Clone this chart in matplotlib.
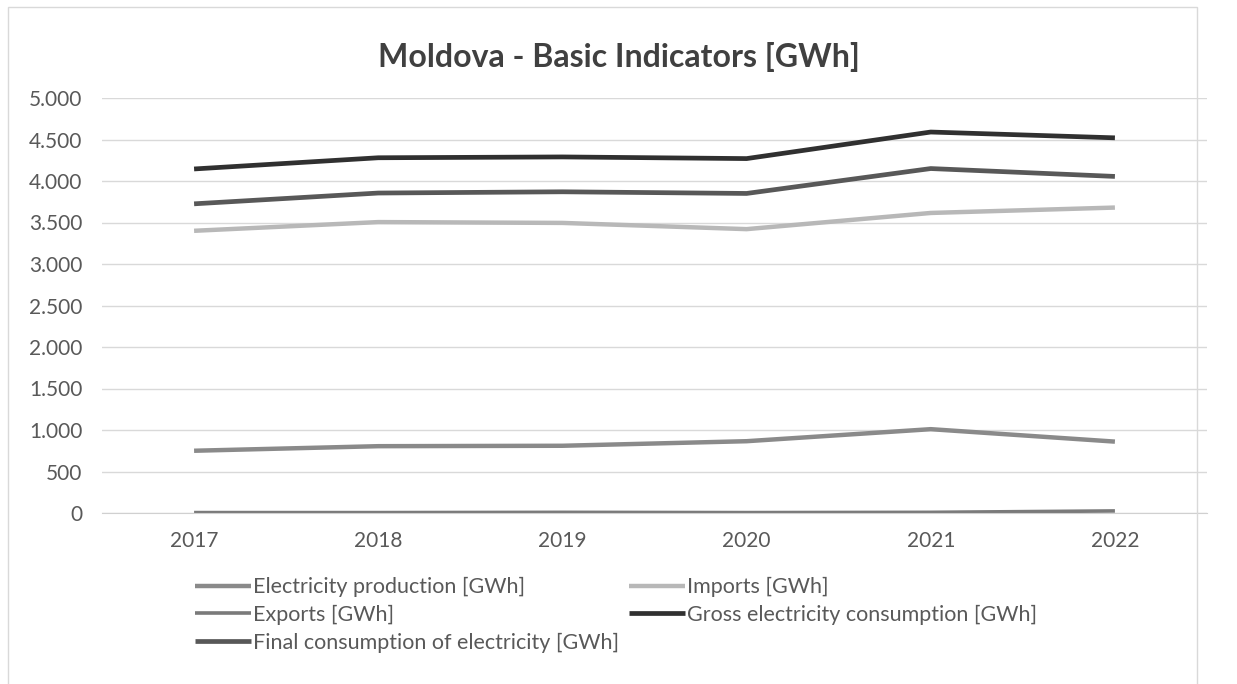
import matplotlib.pyplot as plt
from matplotlib.ticker import FuncFormatter
from matplotlib.patches import Rectangle

# data
years = ['2017', '2018', '2019', '2020', '2021', '2022']
production = [750, 805, 810, 865, 1010, 860]
imports = [3400, 3505, 3495, 3420, 3615, 3680]
exports = [5, 5, 8, 5, 8, 25]
gross = [4145, 4280, 4290, 4270, 4590, 4520]
final = [3725, 3855, 3870, 3850, 4150, 4055]

plt.rcParams['font.family'] = ['Lato', 'DejaVu Sans']

W, H = 1237, 684
fig = plt.figure(figsize=(W / 100, H / 100), dpi=100)
ax = fig.add_axes([102 / W, 1 - 513 / H, (1207 - 102) / W, (513 - 98) / H])

x = range(len(years))
lines = {}
lines['prod'], = ax.plot(x, production, color='#8a8a8a', lw=3.2, solid_capstyle='butt', label='Electricity production [GWh]')
lines['imp'], = ax.plot(x, imports, color='#b8b8b8', lw=3.2, solid_capstyle='butt', label='Imports [GWh]')
lines['exp'], = ax.plot(x, exports, color='#7a7a7a', lw=2.6, solid_capstyle='butt', label='Exports [GWh]')
lines['gross'], = ax.plot(x, gross, color='#303030', lw=3.4, solid_capstyle='butt', label='Gross electricity consumption [GWh]')
lines['final'], = ax.plot(x, final, color='#585858', lw=3.4, solid_capstyle='butt', label='Final consumption of electricity [GWh]')

ax.set_xlim(-0.5, 5.5)
ax.set_ylim(0, 5000)
ax.set_yticks(range(0, 5001, 500))
ax.yaxis.set_major_formatter(FuncFormatter(lambda v, p: f'{int(v):,}'.replace(',', '.')))
ax.set_xticks(list(x))
ax.set_xticklabels(years)
ax.grid(axis='y', color='#d9d9d9', lw=1)
ax.set_axisbelow(True)
for s in ['top', 'right', 'left']:
    ax.spines[s].set_visible(False)
ax.spines['bottom'].set_color('#d0d0d0')
ax.tick_params(length=0, labelsize=15, colors='#595959')
ax.tick_params(axis='y', pad=14)
ax.tick_params(axis='x', pad=13)

fig.text(0.5, 1 - 57 / H, 'Moldova - Basic Indicators [GWh]', ha='center', va='center',
         fontsize=23, fontweight='bold', color='#404040')

handles = [lines['prod'], lines['exp'], lines['final'], lines['imp'], lines['gross']]
leg = fig.legend(handles=handles, labels=[h.get_label() for h in handles], ncol=2,
                 loc='upper left', bbox_to_anchor=(195 / W, 1 - 577 / H), frameon=False,
                 fontsize=15.5, handlelength=2.6, handletextpad=0.1, labelspacing=0.36,
                 columnspacing=0.45, borderaxespad=0, borderpad=0)
for t in leg.get_texts():
    t.set_color('#595959')

# chart border
fig.patches.append(Rectangle((8 / W, -0.01), (1197 - 8) / W, 1 - 7 / H + 0.01,
                             transform=fig.transFigure, fill=False, ec='#d9d9d9', lw=1))

fig.savefig('out.png', dpi=100)
